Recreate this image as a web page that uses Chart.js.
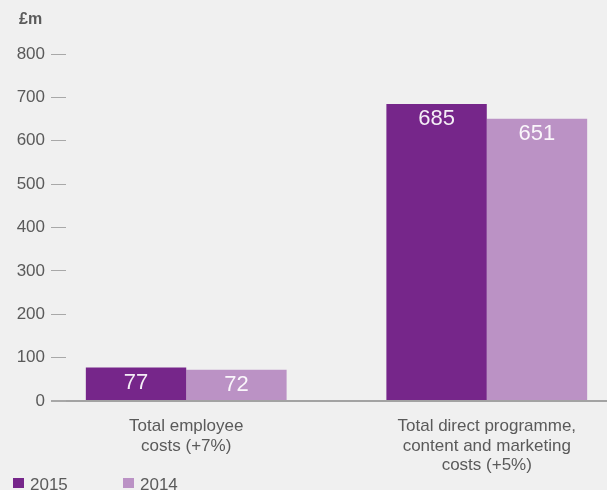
<!DOCTYPE html>
<html>
<head>
<meta charset="utf-8">
<title>Costs</title>
<script src="https://cdn.jsdelivr.net/npm/chart.js@4.4.0/dist/chart.umd.min.js"></script>
<style>
    html, body { margin: 0; padding: 0; background: #f0f0f0; }
    #wrap { width: 607px; height: 490px; position: relative; }
</style>
</head>
<body>
<div id="wrap"><canvas id="myChart"></canvas></div>
<script>
"use strict";

/* data */
const categories = [
    ['Total employee', 'costs (+7%)'],
    ['Total direct programme,', 'content and marketing', 'costs (+5%)']
];
const seriesLabels = ['2015', '2014'];
const values2015 = [77, 685];
const values2014 = [72, 651];
const yTicks = [0, 100, 200, 300, 400, 500, 600, 700, 800];
const unitLabel = '£m';

const colors = ['#76268a', '#bb92c5'];
const textColor = '#5a5a5a';
const fontFamily = '"Liberation Sans", Arial, Helvetica, sans-serif';

/* values written inside the top of each bar */
const valueLabels = {
    id: 'valueLabels',
    afterDatasetsDraw(chart) {
        const ctx = chart.ctx;
        ctx.save();
        ctx.font = '22px ' + fontFamily;
        ctx.fillStyle = 'rgba(255, 255, 255, 0.92)';
        ctx.textAlign = 'center';
        ctx.textBaseline = 'middle';
        chart.data.datasets.forEach((ds, i) => {
            chart.getDatasetMeta(i).data.forEach((bar, j) => {
                ctx.fillText(ds.data[j], bar.x, bar.y + 15);
            });
        });
        ctx.restore();
    }
};

/* unit label at the top and the small legend at the bottom */
const extras = {
    id: 'extras',
    afterDraw(chart) {
        const ctx = chart.ctx;
        ctx.save();
        ctx.textAlign = 'left';
        ctx.textBaseline = 'middle';
        ctx.fillStyle = textColor;
        ctx.font = 'bold 16px ' + fontFamily;
        ctx.fillText(unitLabel, 19, 20);
        ctx.font = '17px ' + fontFamily;
        chart.data.datasets.forEach((ds, i) => {
            const x = 13 + i * 110;
            ctx.fillStyle = ds.backgroundColor;
            ctx.fillRect(x, 478, 11, 10);
            ctx.fillStyle = textColor;
            ctx.fillText(ds.label, x + 17, 485);
        });
        ctx.restore();
    }
};

const ctx1 = document.getElementById('myChart');

new Chart(ctx1, {
    type: 'bar',
    data: {
        labels: categories.map((c, i) => i),
        datasets: [{
            label: seriesLabels[0],
            data: values2015,
            backgroundColor: colors[0],
            categoryPercentage: 0.668,
            barPercentage: 1
        }, {
            label: seriesLabels[1],
            data: values2014,
            backgroundColor: colors[1],
            categoryPercentage: 0.668,
            barPercentage: 1
        }]
    },
    plugins: [valueLabels, extras],
    options: {
        responsive: true,
        maintainAspectRatio: false,
        animation: false,
        layout: { padding: { top: 54, left: 0, right: 0, bottom: 0 } },
        plugins: {
            legend: { display: false },
            tooltip: { enabled: false }
        },
        scales: {
            x: {
                type: 'linear',
                min: -0.4,
                max: categories.length - 0.6,
                offset: false,
                afterBuildTicks: scale => {
                    scale.ticks = categories.map((c, i) => ({ value: i }));
                },
                afterFit: scale => { scale.height = 89; },
                border: { display: false },
                grid: { display: false, drawTicks: false },
                ticks: {
                    padding: 16,
                    maxRotation: 0,
                    autoSkip: false,
                    color: textColor,
                    font: { family: fontFamily, size: 17, lineHeight: 1.13 },
                    callback: v => categories[v]
                }
            },
            y: {
                min: yTicks[0],
                max: yTicks[yTicks.length - 1],
                afterBuildTicks: scale => {
                    scale.ticks = yTicks.map(v => ({ value: v }));
                },
                afterFit: scale => { scale.width = 66; },
                border: { display: false },
                grid: {
                    z: 1,
                    drawTicks: true,
                    tickLength: 15,
                    color: c => c.tick && c.tick.value === 0 ? '#a3a3a3' : 'rgba(0,0,0,0)',
                    tickColor: '#a8a8a8',
                    lineWidth: c => c.tick && c.tick.value === 0 ? 2 : 1
                },
                ticks: {
                    padding: 6,
                    color: textColor,
                    font: { family: fontFamily, size: 17 }
                }
            }
        }
    }
});
</script>
</body>
</html>
